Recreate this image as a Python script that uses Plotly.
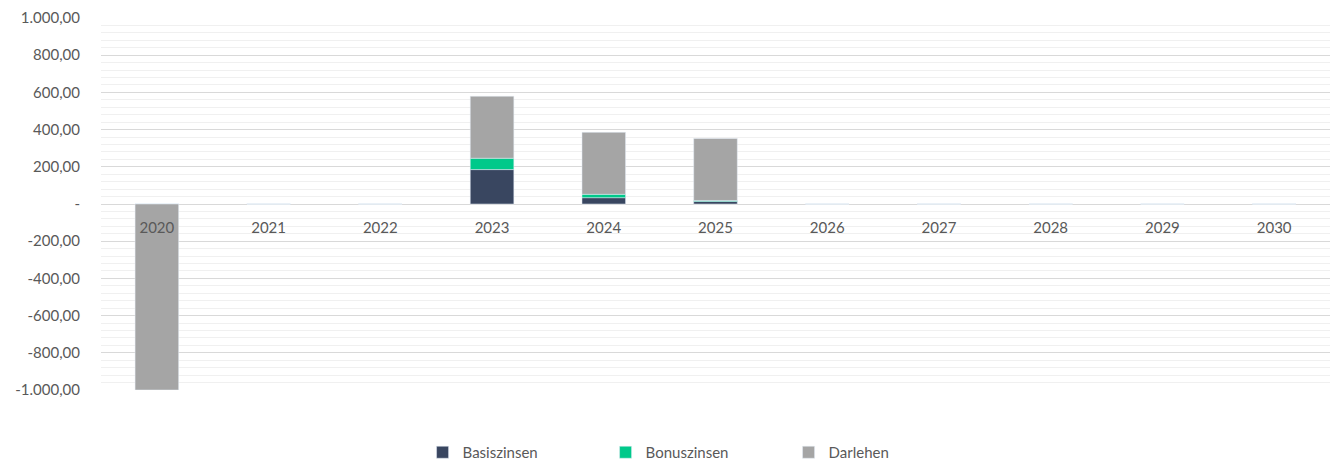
import plotly.graph_objects as go

years = ["2020", "2021", "2022", "2023", "2024", "2025", "2026", "2027", "2028", "2029", "2030"]
basiszinsen = [0, 0, 0, 185, 34, 14, 0, 0, 0, 0, 0]
bonuszinsen = [0, 0, 0, 61, 18, 5, 0, 0, 0, 0, 0]
darlehen = [-1000, 0, 0, 333.33, 333.33, 333.33, 0, 0, 0, 0, 0]

y_tickvals = [1000, 800, 600, 400, 200, 0, -200, -400, -600, -800, -1000]
y_ticktext = ["1.000,00", "800,00", "600,00", "400,00", "200,00", "-",
              "-200,00", "-400,00", "-600,00", "-800,00", "-1.000,00"]

FONT = "Lato"
TXT = "#595959"

fig = go.Figure()
fig.add_trace(go.Bar(name="Basiszinsen", x=years, y=basiszinsen, marker_color="#394660"))
fig.add_trace(go.Bar(name="Bonuszinsen", x=years, y=bonuszinsen, marker_color="#00C98A"))
fig.add_trace(go.Bar(name="Darlehen", x=years, y=darlehen, marker_color="#A5A5A5"))

fig.update_layout(
    width=1330, height=462,
    margin=dict(l=101, r=0, t=18, b=72, autoexpand=False),
    barmode="relative",
    bargap=0.61,
    plot_bgcolor="white",
    paper_bgcolor="white",
    font=dict(family=FONT, size=15, color=TXT),
    legend=dict(orientation="h", x=0.485, xanchor="center", y=-0.168, yanchor="middle",
                entrywidth=138, font=dict(size=15, color=TXT), traceorder="normal"),
    xaxis=dict(type="category", anchor="free", position=0.5, showgrid=False,
               showline=False, zeroline=False, ticks="", ticklabelstandoff=13,
               automargin=False, tickfont=dict(size=15, color=TXT)),
    yaxis=dict(range=[-1000, 1000], domain=[0, 1], tickmode="array",
               tickvals=y_tickvals, ticktext=y_ticktext, automargin=False,
               showgrid=True, gridcolor="#d9d9d9", gridwidth=1,
               zeroline=False, showline=False, ticks="", ticklabelstandoff=20,
               tickfont=dict(size=15, color=TXT),
               minor=dict(tickmode="linear", tick0=0, dtick=40, showgrid=True,
                          gridcolor="#f0f0f0", gridwidth=1)),
)

fig.write_html("out.html", config={"displayModeBar": False},
               post_script="document.body.style.margin='0';")
